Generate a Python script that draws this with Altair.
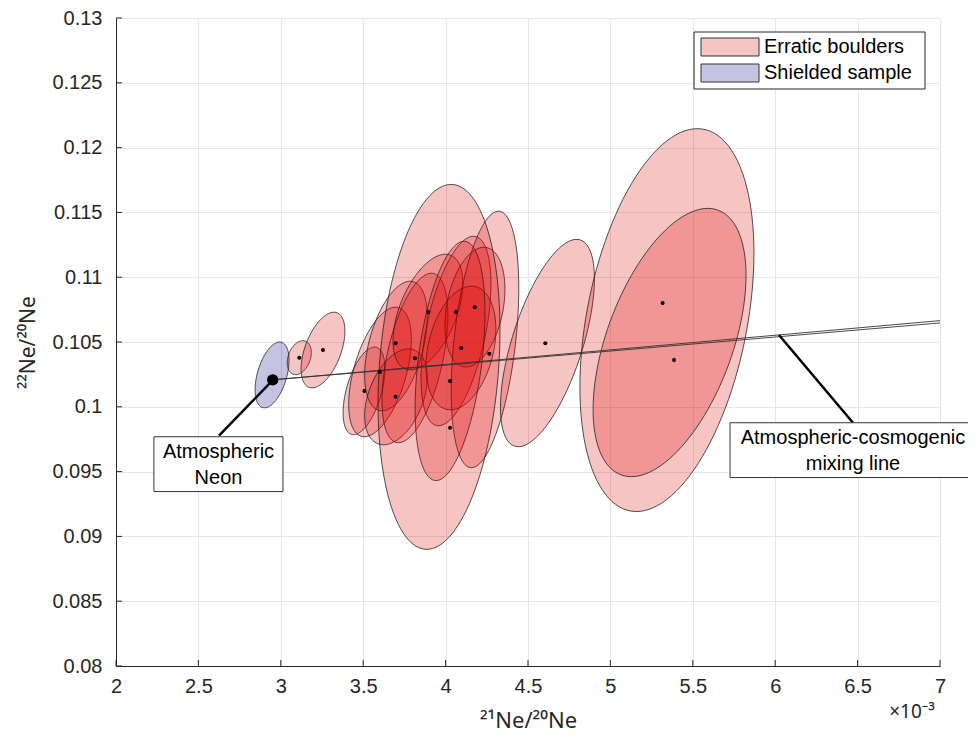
import altair as alt
import numpy as np
import pandas as pd

# ---------------- data (x values in units of 10^-3) ----------------
ell_group = ["Shielded sample"] + ["Erratic boulders"] * 17
ell_x = [2.947, 3.112, 3.256, 3.505, 3.602, 3.699, 3.699, 3.814, 3.893, 4.063,
         4.178, 4.093, 4.239, 4.027, 3.960, 4.618, 5.343, 5.359]
ell_y = [0.10246, 0.10379, 0.10438, 0.10123, 0.10269, 0.10469, 0.10077, 0.10377, 0.10731, 0.10585,
         0.10769, 0.10454, 0.10520, 0.10354, 0.10308, 0.10492, 0.10669, 0.10496]
ell_sx = [0.103, 0.073, 0.133, 0.127, 0.190, 0.190, 0.190, 0.200, 0.212, 0.212,
          0.182, 0.212, 0.205, 0.212, 0.370, 0.285, 0.528, 0.464]
ell_sy = [0.00254, 0.00131, 0.00292, 0.00338, 0.00500, 0.00500, 0.00370, 0.00654, 0.00446, 0.00731,
          0.00462, 0.00477, 0.00990, 0.00923, 0.01408, 0.00800, 0.01477, 0.01035]
ell_rho = [0.45, 0.3, 0.5, 0.5, 0.5, 0.45, 0.4, 0.5, 0.5, 0.5,
           0.3, 0.3, 0.4, 0.4, 0.2, 0.62, 0.35, 0.5]

dot_x = [3.112, 3.256, 3.602, 3.507, 3.697, 3.697, 3.814, 3.895, 4.063, 4.177,
         4.095, 4.265, 4.027, 4.027, 4.605, 5.317, 5.386]
dot_y = [0.10379, 0.10438, 0.10269, 0.10121, 0.1049, 0.10077, 0.10375, 0.10731, 0.10731, 0.10769,
         0.10454, 0.1041, 0.102, 0.09838, 0.1049, 0.108, 0.10362]

atm_x = [2.951]
atm_y = [0.10208]

mix_line = ["a", "a", "b", "b"]
mix_x = [2.951, 7.0, 2.951, 7.0]
mix_y = [0.10208, 0.10665, 0.10208, 0.10647]

x_ticks = [2, 2.5, 3, 3.5, 4, 4.5, 5, 5.5, 6, 6.5, 7]
y_ticks = [0.08, 0.085, 0.09, 0.095, 0.1, 0.105, 0.11, 0.115, 0.12, 0.125, 0.13]

categories = ["Erratic boulders", "Shielded sample"]
palette = ["#dd0000", "#000080"]

# ---------------- build ellipse outlines ----------------
rows = []
t = np.linspace(0, 2 * np.pi, 121)
for i, (g, cx, cy, sx, sy, r) in enumerate(zip(ell_group, ell_x, ell_y, ell_sx, ell_sy, ell_rho)):
    xs = cx + sx * np.cos(t)
    ys = cy + sy * (r * np.cos(t) + np.sqrt(1 - r * r) * np.sin(t))
    for k in range(len(t)):
        rows.append({"id": f"e{i:02d}", "group": g, "k": k, "x": xs[k], "y": ys[k]})
ell_df = pd.DataFrame(rows)

W, H = 824, 648
FONT = "Liberation Sans"
TFONT = "Noto Sans"
TXT = "#262626"

xscale = alt.Scale(domain=[2, 7], nice=False, zero=False)
yscale = alt.Scale(domain=[0.08, 0.13], nice=False, zero=False)
cscale = alt.Scale(domain=categories, range=palette)

xaxis = alt.Axis(values=x_ticks, format="~g", title="²¹Ne/²⁰Ne", grid=True,
                 gridColor="#e6e6e6", ticks=False, domainColor=TXT, labelColor=TXT,
                 labelFontSize=20, labelFont=FONT, labelPadding=10, titleFont=TFONT,
                 titleFontSize=22, titleFontWeight="normal", titleColor=TXT, titlePadding=14,
                 labelFlush=False)
yaxis = alt.Axis(values=y_ticks, format="~g", title="²²Ne/²⁰Ne", grid=True,
                 gridColor="#e6e6e6", ticks=False, domainColor=TXT, labelColor=TXT,
                 labelFontSize=20, labelFont=FONT, labelPadding=14, titleFont=TFONT,
                 titleFontSize=21, titleFontWeight="normal", titleColor=TXT, titlePadding=13,
                 labelFlush=False)

ellipses = alt.Chart(ell_df).mark_line(
    fillOpacity=0.23, stroke="#1a1a1a", strokeWidth=0.9, strokeOpacity=0.85
).encode(
    x=alt.X("x:Q", scale=xscale, axis=xaxis),
    y=alt.Y("y:Q", scale=yscale, axis=yaxis),
    fill=alt.Fill("group:N", scale=cscale, legend=None),
    detail="id:N",
    order="k:Q",
)

mix_df = pd.DataFrame({"line": mix_line, "x": mix_x, "y": mix_y})
mixing = alt.Chart(mix_df).mark_line(color="#333333", strokeWidth=0.9).encode(
    x=alt.X("x:Q", scale=xscale), y=alt.Y("y:Q", scale=yscale), detail="line:N"
)

dots = alt.Chart(pd.DataFrame({"x": dot_x, "y": dot_y})).mark_circle(
    size=16, color="black", opacity=1
).encode(x=alt.X("x:Q", scale=xscale), y=alt.Y("y:Q", scale=yscale))

atm = alt.Chart(pd.DataFrame({"x": atm_x, "y": atm_y})).mark_circle(
    size=130, color="black", opacity=1
).encode(x=alt.X("x:Q", scale=xscale), y=alt.Y("y:Q", scale=yscale))

# inward ticks (MATLAB style)
xtick_layer = alt.Chart(pd.DataFrame({"x": x_ticks})).mark_rule(color=TXT, strokeWidth=1).encode(
    x=alt.X("x:Q", scale=xscale), y=alt.value(H), y2=alt.value(H - 6))
ytick_layer = alt.Chart(pd.DataFrame({"y": y_ticks})).mark_rule(color=TXT, strokeWidth=1).encode(
    y=alt.Y("y:Q", scale=yscale), x=alt.value(0), x2=alt.value(6))

# annotations (positions in data units)
arrow_df = pd.DataFrame({"x": [2.953, 6.023], "y": [0.10208, 0.10554],
                         "x2": [2.625, 6.472], "y2": [0.09777, 0.09877]})
arrows = alt.Chart(arrow_df).mark_rule(color="black", strokeWidth=2.5).encode(
    x=alt.X("x:Q", scale=xscale), y=alt.Y("y:Q", scale=yscale), x2="x2:Q", y2="y2:Q")

box_df = pd.DataFrame({"x": [2.23, 5.726], "x2": [3.013, 7.3],
                       "y": [0.09769, 0.09877], "y2": [0.09346, 0.09454]})
boxes = alt.Chart(box_df).mark_rect(fill="white", stroke="#333333", strokeWidth=1).encode(
    x=alt.X("x:Q", scale=xscale), x2="x2:Q", y=alt.Y("y:Q", scale=yscale), y2="y2:Q")

label_df = pd.DataFrame({
    "x": [2.622, 2.622, 6.472, 6.472],
    "y": [0.09654, 0.09454, 0.09762, 0.09562],
    "text": ["Atmospheric", "Neon", "Atmospheric-cosmogenic", "mixing line"],
})
labels = alt.Chart(label_df).mark_text(font=FONT, fontSize=20, color="black",
                                       align="center", baseline="middle").encode(
    x=alt.X("x:Q", scale=xscale), y=alt.Y("y:Q", scale=yscale), text="text:N")

exp_label = alt.Chart(pd.DataFrame({"x": [6.83], "y": [0.07645], "text": ["×10⁻³"]})).mark_text(
    font=TFONT, fontSize=19, color=TXT, align="center", baseline="middle"
).encode(x=alt.X("x:Q", scale=xscale), y=alt.Y("y:Q", scale=yscale), text="text:N")

# legend (drawn manually, colours from the same palette)
LX, LY = 578, 14
leg_df = pd.DataFrame({
    "label": categories,
    "color": palette,
    "sx": [LX + 7, LX + 7], "sx2": [LX + 65, LX + 65],
    "sy": [LY + 6, LY + 32], "sy2": [LY + 24, LY + 50],
    "tx": [LX + 70, LX + 70], "ty": [LY + 15, LY + 41],
})
leg_box = alt.Chart(pd.DataFrame({"a": [0]})).mark_rect(
    fill="white", stroke=TXT, strokeWidth=1
).encode(x=alt.value(LX), x2=alt.value(LX + 231), y=alt.value(LY), y2=alt.value(LY + 57))
leg_sw = alt.Chart(leg_df).mark_rect(fillOpacity=0.23, stroke="#333333", strokeWidth=1).encode(
    x=alt.X("sx:Q", scale=None), x2="sx2:Q", y=alt.Y("sy:Q", scale=None), y2="sy2:Q",
    fill=alt.Fill("color:N", scale=None))
leg_tx = alt.Chart(leg_df).mark_text(font=FONT, fontSize=20, color="black",
                                     align="left", baseline="middle").encode(
    x=alt.X("tx:Q", scale=None), y=alt.Y("ty:Q", scale=None), text="label:N")

chart = alt.layer(
    ellipses, mixing, dots, atm, xtick_layer, ytick_layer,
    arrows, boxes, labels, exp_label, leg_box, leg_sw, leg_tx
).properties(
    width=W, height=H,
    autosize=alt.AutoSizeParams(type="none"),
    padding={"left": 108, "top": 10, "right": 28, "bottom": 67},
).configure_view(stroke=None).configure(background="white")

chart.save("out.html", embed_options={"renderer": "svg", "actions": False})
